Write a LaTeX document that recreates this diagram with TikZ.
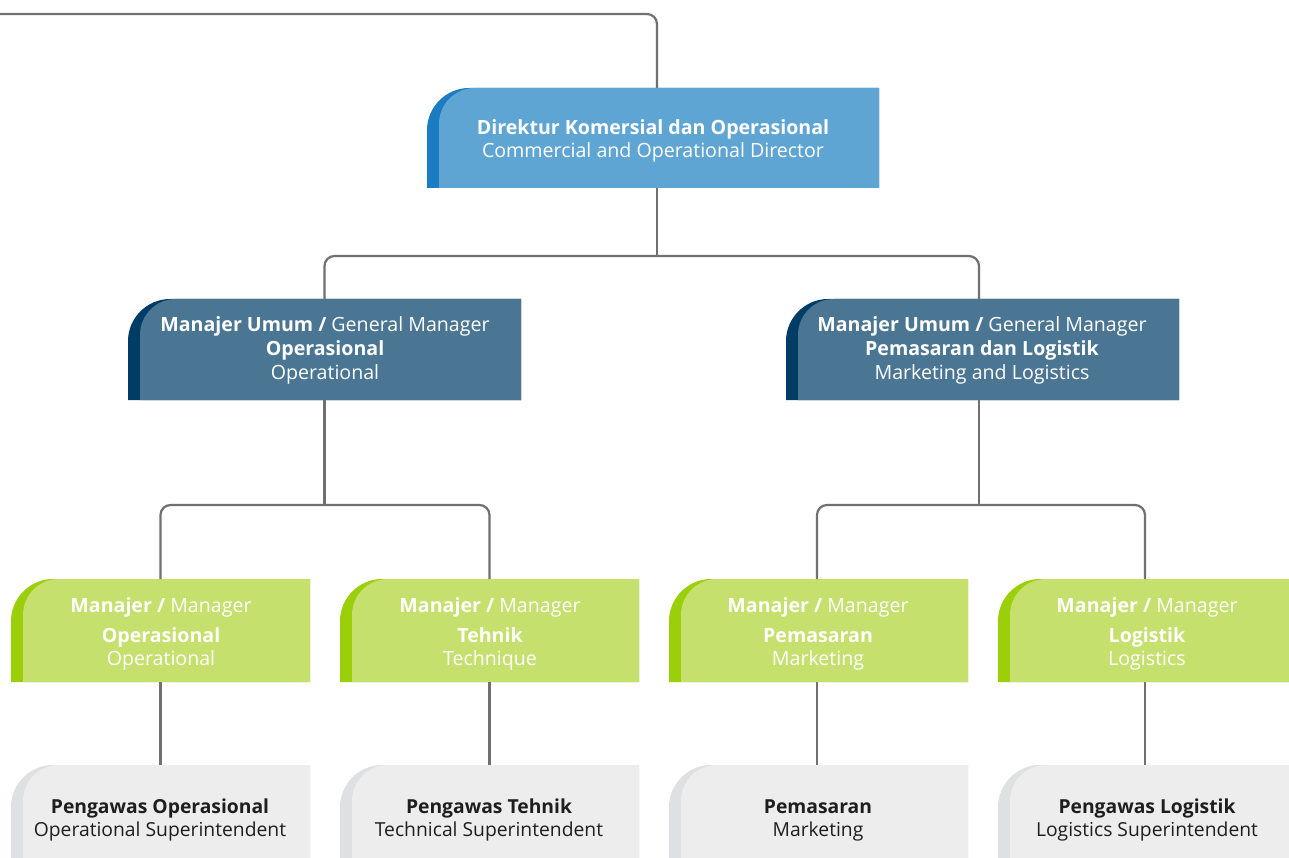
\documentclass[tikz,border=0pt]{standalone}
\usepackage{fontspec}
\setmainfont{Open Sans}
\usetikzlibrary{fit}
\definecolor{topstrip}{HTML}{1B7CC1}
\definecolor{topfill}{HTML}{5FA5D4}
\definecolor{midstrip}{HTML}{003D66}
\definecolor{midfill}{HTML}{4A7694}
\definecolor{grnstrip}{HTML}{9BCF0A}
\definecolor{grnfill}{HTML}{C5E06D}
\definecolor{grystrip}{HTML}{DFE0E2}
\definecolor{gryfill}{HTML}{EDEDEE}
\definecolor{linecol}{HTML}{707070}
\definecolor{darktext}{HTML}{1E1E1E}
\tikzset{
  conn/.style={draw=linecol, line width=2.2pt, rounded corners=10pt},
  boxname/.style={inner sep=0pt, outer sep=0pt},
  lbl/.style={anchor=base, align=center, inner sep=0pt, text=white,
    font=\fontsize{19.6}{24}\selectfont},
  lbl23/.style={lbl, font=\fontsize{19.6}{23}\selectfont},
  lbldark/.style={lbl, text=darktext, font=\fontsize{19.3}{23}\selectfont},
}
% #1 name, #2 x0, #3 y0, #4 x1, #5 y1, #6 strip colour, #7 fill colour
\newcommand\orgbox[7]{%
  \fill[#6] (#2,#5) -- (#2,#3+42) .. controls (#2,#3+19) and (#2+19,#3) .. (#2+42,#3)
     -- (#4,#3) -- (#4,#5) -- cycle;
  \fill[#7] (#2+12,#5) -- (#2+12,#3+36) .. controls (#2+12,#3+16) and (#2+28,#3) .. (#2+48,#3)
     -- (#4,#3) -- (#4,#5) -- cycle;
  \node[boxname, fit={(#2,#3) (#4,#5)}] (#1) {};
}
\begin{document}
\begin{tikzpicture}[x=1pt, y=-1pt]
\useasboundingbox (0,0) rectangle (1289,858);
\clip (0,0) rectangle (1289,858);
\fill[white] (0,0) rectangle (1289,858);

% boxes
\orgbox{dir}{427}{88}{879}{188}{topstrip}{topfill}
\orgbox{gmo}{128}{299}{521}{400}{midstrip}{midfill}
\orgbox{gmp}{786}{299}{1179}{400}{midstrip}{midfill}
\orgbox{mo}{11}{579}{310}{682}{grnstrip}{grnfill}
\orgbox{mt}{340}{579}{639}{682}{grnstrip}{grnfill}
\orgbox{mp}{669}{579}{968}{682}{grnstrip}{grnfill}
\orgbox{ml}{998}{579}{1297}{682}{grnstrip}{grnfill}
\orgbox{so}{11}{765}{310}{880}{grystrip}{gryfill}
\orgbox{st}{340}{765}{639}{880}{grystrip}{gryfill}
\orgbox{sp}{669}{765}{968}{880}{grystrip}{gryfill}
\orgbox{sl}{998}{765}{1297}{880}{grystrip}{gryfill}

% labels (anchor base = baseline of the last line)
\node[lbl23] (dirt) at (653,158)
  {\textbf{Direktur Komersial dan Operasional}\\Commercial and Operational Director};
\node[lbl] (gmot) at (325,379)
  {\textbf{Manajer Umum /} General Manager\\\textbf{Operasional}\\Operational};
\node[lbl] (gmpt) at (982,379)
  {\textbf{Manajer Umum /} General Manager\\\textbf{Pemasaran dan Logistik}\\Marketing and Logistics};
\node[lbl23] (mot) at (161,665)
  {\textbf{Manajer /} Manager\\[7pt]\textbf{Operasional}\\Operational};
\node[lbl23] (mtt) at (490,665)
  {\textbf{Manajer /} Manager\\[7pt]\textbf{Tehnik}\\Technique};
\node[lbl23] (mpt) at (818,665)
  {\textbf{Manajer /} Manager\\[7pt]\textbf{Pemasaran}\\Marketing};
\node[lbl23] (mlt) at (1147,665)
  {\textbf{Manajer /} Manager\\[7pt]\textbf{Logistik}\\Logistics};
\node[lbldark] (sot) at (160,836)
  {\textbf{Pengawas Operasional}\\Operational Superintendent};
\node[lbldark] (stt) at (489,836)
  {\textbf{Pengawas Tehnik}\\Technical Superintendent};
\node[lbldark] (spt) at (818,836)
  {\textbf{Pemasaran}\\Marketing};
\node[lbldark] (slt) at (1147,836)
  {\textbf{Pengawas Logistik}\\Logistics Superintendent};

% connectors
\coordinate (tl) at (0,14);
\coordinate (dirn) at ([xshift=4pt]dir.north);
\coordinate (dirs) at ([xshift=4pt]dir.south);
\coordinate (gmpn) at ([xshift=-3.5pt]gmp.north);
\coordinate (gmps) at ([xshift=-3.5pt]gmp.south);
\coordinate (mpn) at ([xshift=-1.5pt]mp.north);
\coordinate (mps) at ([xshift=-1.5pt]mp.south);
\coordinate (mln) at ([xshift=-2.5pt]ml.north);
\coordinate (mls) at ([xshift=-2.5pt]ml.south);
\coordinate (j1) at (dirs |- 0,256);
\coordinate (j2) at (gmo.south |- 0,505);
\coordinate (j3) at (gmps |- 0,505);
\draw[conn] (tl) -| (dirn);
\draw[conn] (dirs) -- (j1);
\draw[conn] (gmo.north) |- (j1) -| (gmpn);
\draw[conn] (gmo.south) -- (j2);
\draw[conn] (mo.north) |- (j2) -| (mt.north);
\draw[conn] (gmps) -- (j3);
\draw[conn] (mpn) |- (j3) -| (mln);
\draw[conn] (mo.south) -- (so.north);
\draw[conn] (mt.south) -- (st.north);
\draw[conn] (mps) -- (mps |- sp.north);
\draw[conn] (mls) -- (mls |- sl.north);
\end{tikzpicture}
\end{document}
